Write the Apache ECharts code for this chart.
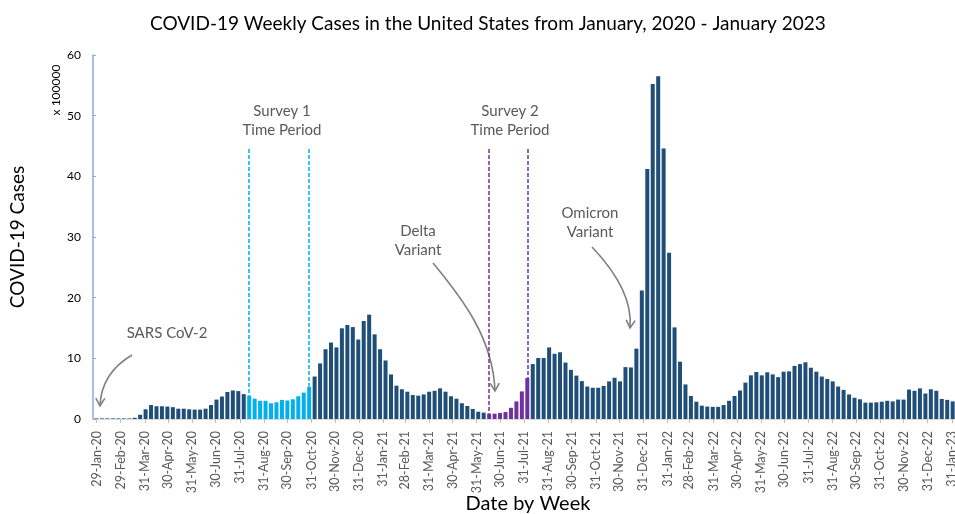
<!DOCTYPE html>
<html>
<head>
<meta charset="utf-8">
<title>COVID-19 Weekly Cases</title>
<script src="https://cdn.jsdelivr.net/npm/echarts@6.0.0/dist/echarts.min.js"></script>
<style>
  html, body { margin: 0; padding: 0; background: #fff; }
  #chart { width: 955px; height: 514px; }
</style>
</head>
<body>
<div id="chart"></div>
<script>
// weekly cases in units of 100,000, one value per week starting 29-Jan-2020
const firstWeek = [2020, 0, 29];
const weeklyCases = [
  0.1, 0.1, 0.1, 0.1, 0.1, 0.1, 0.1, 0.2,
  0.7, 1.6, 2.3, 2.1, 2.1, 2.05, 1.95, 1.7, 1.7, 1.6, 1.55, 1.55,
  1.7, 2.3, 3.2, 3.7, 4.45, 4.7, 4.6, 4.1,
  3.85, 3.35, 3.0, 3.0, 2.6, 2.75, 3.15, 3.05, 3.25, 3.75, 4.35, 5.3,
  7.0, 9.15, 11.5, 12.6, 11.8, 14.95, 15.5, 15.15, 13.1, 16.15,
  17.2, 13.95, 11.5, 9.65, 7.35, 5.5, 4.9, 4.5, 3.95, 3.85,
  4.05, 4.5, 4.65, 5.05, 4.5, 3.75, 3.35, 2.6, 2.15, 1.65, 1.2, 1.05,
  0.88, 0.88, 1.0, 1.15, 1.85, 2.9, 4.55, 6.75,
  9.05, 10.05, 10.05, 11.8, 10.75, 11.0, 9.3, 8.1, 7.15, 6.25,
  5.35, 5.15, 5.15, 5.45, 6.2, 6.8, 6.2, 8.55, 8.5, 11.6,
  21.2, 41.2, 55.2, 56.5, 44.6, 27.4, 15.1, 9.45, 5.7, 3.8,
  2.85, 2.2, 2.05, 2.0, 2.0, 2.3, 3.0, 3.8, 4.7, 6.0,
  7.2, 7.75, 7.2, 7.7, 7.35, 6.9, 7.8, 7.85, 8.75, 9.05,
  9.35, 8.45, 7.8, 7.0, 6.6, 6.2, 5.35, 4.8, 4.05, 3.5,
  3.25, 2.7, 2.7, 2.75, 2.85, 3.0, 2.9, 3.2, 3.2, 4.85,
  4.65, 5.05, 4.2, 4.9, 4.65, 3.3, 3.15, 2.9
];

// survey periods (first and last week highlighted)
const survey1 = ["12-Aug-20", "28-Oct-20"];
const survey2 = ["16-Jun-21", "4-Aug-21"];

const monthLabels = [
  "29-Jan-20", "29-Feb-20", "31-Mar-20", "30-Apr-20", "31-May-20", "30-Jun-20",
  "31-Jul-20", "31-Aug-20", "30-Sep-20", "31-Oct-20", "30-Nov-20", "31-Dec-20",
  "31-Jan-21", "28-Feb-21", "31-Mar-21", "30-Apr-21", "31-May-21", "30-Jun-21",
  "31-Jul-21", "31-Aug-21", "30-Sep-21", "31-Oct-21", "30-Nov-21", "31-Dec-21",
  "31-Jan-22", "28-Feb-22", "31-Mar-22", "30-Apr-22", "31-May-22", "30-Jun-22",
  "31-Jul-22", "31-Aug-22", "30-Sep-22", "31-Oct-22", "30-Nov-22", "31-Dec-22",
  "31-Jan-23"
];

const MONTHS = ["Jan","Feb","Mar","Apr","May","Jun","Jul","Aug","Sep","Oct","Nov","Dec"];
const DAY = 86400000;
const base = Date.UTC(firstWeek[0], firstWeek[1], firstWeek[2]);

// x values are days since the first week
function parseDay(s) {
  const [d, m, y] = s.split("-");
  return Math.round((Date.UTC(2000 + Number(y), MONTHS.indexOf(m), Number(d)) - base) / DAY);
}

const weekDays = weeklyCases.map((_, i) => 7 * i);
const labelDays = monthLabels.map(parseDay);
const labelByDay = {};
labelDays.forEach((d, i) => { labelByDay[d] = monthLabels[i]; });

const s1 = survey1.map(parseDay);
const s2 = survey2.map(parseDay);

const DARK = "#1F4E79", LIGHT = "#00B0F0", PURPLE = "#7030A0";

function barColor(d) {
  if (d >= s1[0] && d <= s1[1]) return LIGHT;
  if (d >= s2[0] && d <= s2[1]) return PURPLE;
  return DARK;
}

function periodLine(d, color) {
  return [
    { coord: [d, 44.5], lineStyle: { color } },
    { coord: [d, weeklyCases[d / 7]] }
  ];
}

const textFont = "15px Lato";
const GREY = "#595959";

// curved annotation arrow with an open head
function arrow(p0, c1, c2, p1) {
  const dx = p1[0] - c2[0], dy = p1[1] - c2[1];
  const len = Math.hypot(dx, dy);
  const ux = dx / len, uy = dy / len;
  const a = Math.PI / 6, L = 9;
  const rot = (ang) => [
    p1[0] - L * (ux * Math.cos(ang) - uy * Math.sin(ang)),
    p1[1] - L * (ux * Math.sin(ang) + uy * Math.cos(ang))
  ];
  return [
    {
      type: "bezierCurve",
      shape: { x1: p0[0], y1: p0[1], cpx1: c1[0], cpy1: c1[1], cpx2: c2[0], cpy2: c2[1], x2: p1[0], y2: p1[1] },
      style: { stroke: "#7F7F7F", lineWidth: 1.6, fill: null }
    },
    {
      type: "polyline",
      shape: { points: [rot(a), p1, rot(-a)] },
      style: { stroke: "#7F7F7F", lineWidth: 1.6, fill: null }
    }
  ];
}

function note(text, x, y) {
  return {
    type: "text", x, y,
    style: { text, font: textFont, fill: GREY, align: "center", verticalAlign: "middle", lineHeight: 19 }
  };
}

const chart = echarts.init(document.getElementById("chart"));

chart.setOption({
  backgroundColor: "#fff",
  animation: false,
  title: {
    text: "COVID-19 Weekly Cases in the United States from January, 2020 - January 2023",
    left: 145,
    top: 9,
    textStyle: { fontFamily: "Lato", fontSize: 19, fontWeight: "normal", color: "#000" }
  },
  grid: { left: 93, right: 0, top: 55, bottom: 95, outerBoundsMode: "none" },
  xAxis: {
    type: "value",
    min: -4.5,
    max: 1102,
    name: "Date by Week",
    nameLocation: "middle",
    nameGap: 75,
    nameMoveOverlap: false,
    nameTextStyle: { fontFamily: "Lato", fontSize: 20, color: "#000", padding: [0, 0, 0, 8] },
    axisLine: { lineStyle: { color: "#D9D9D9", width: 1 } },
    axisTick: { show: true, customValues: labelDays, length: 4, lineStyle: { color: "#BFBFBF" } },
    splitLine: { show: false },
    axisLabel: {
      customValues: labelDays,
      rotate: 90,
      margin: 12,
      fontFamily: "Lato",
      fontSize: 12.5,
      color: GREY,
      hideOverlap: false,
      formatter: (v) => labelByDay[v] || ""
    }
  },
  yAxis: {
    type: "value",
    min: 0,
    max: 60,
    interval: 10,
    name: "COVID-19 Cases",
    nameLocation: "middle",
    nameRotate: 90,
    nameGap: 66,
    nameTextStyle: { fontFamily: "Lato", fontSize: 19, color: "#000" },
    axisLine: { show: true, onZero: false, lineStyle: { color: "#8FAADC", width: 1.5 } },
    axisTick: { show: true, inside: true, length: 3, lineStyle: { color: "#8FAADC" } },
    splitLine: { show: false },
    axisLabel: { fontFamily: "Lato", fontSize: 12, color: "#000", margin: 12 }
  },
  series: [
    {
      type: "bar",
      barWidth: 4,
      data: weekDays.map((d, i) => [d, weeklyCases[i]]),
      itemStyle: { color: (p) => barColor(p.value[0]) },
      markLine: {
        silent: true,
        symbol: "none",
        label: { show: false },
        lineStyle: { type: [4, 2], width: 1.5 },
        data: [
          periodLine(s1[0], LIGHT),
          periodLine(s1[1], LIGHT),
          periodLine(s2[0], PURPLE),
          periodLine(s2[1], PURPLE)
        ]
      }
    }
  ],
  graphic: [
    {
      type: "text", x: 56, y: 90, rotation: Math.PI / 2,
      style: { text: "x 100000", font: "12px Lato", fill: "#000", align: "center", verticalAlign: "middle" }
    },
    note("SARS CoV-2", 167, 333),
    note("Survey 1\nTime Period", 282, 121),
    note("Survey 2\nTime Period", 510, 121),
    note("Delta\nVariant", 418, 241),
    note("Omicron\nVariant", 590, 223),
    ...arrow([132, 355], [115, 365], [101, 380], [100, 406]),
    ...arrow([433, 263], [462, 298], [493, 338], [495, 391]),
    ...arrow([592, 247], [612, 268], [633, 296], [630, 328])
  ]
});
</script>
</body>
</html>
